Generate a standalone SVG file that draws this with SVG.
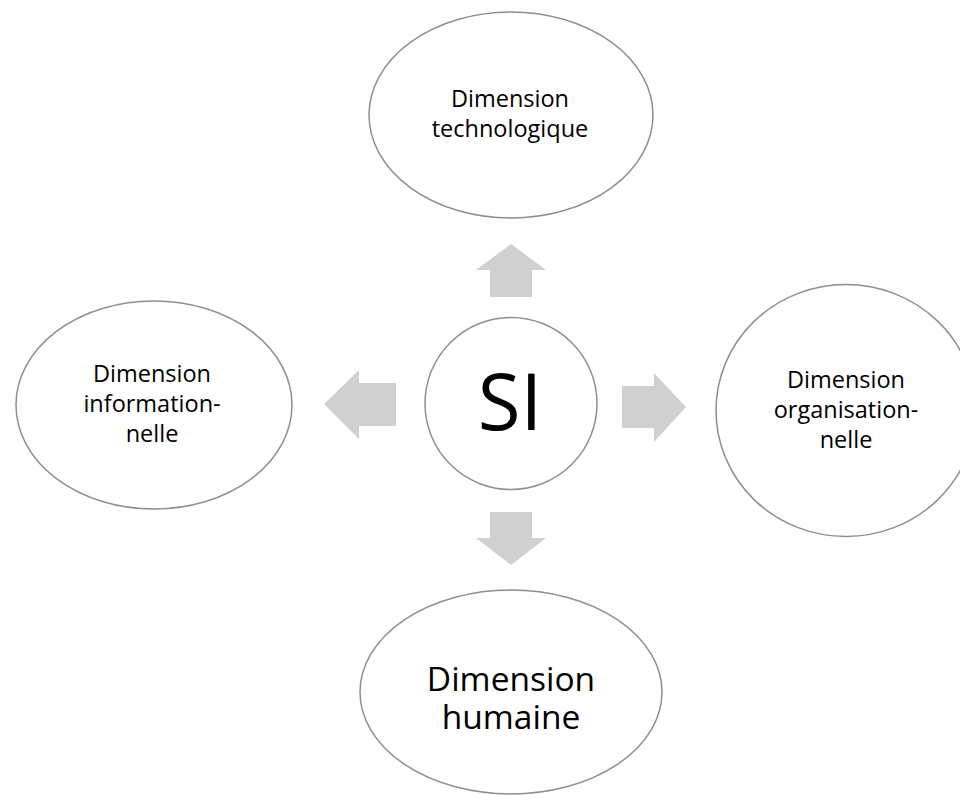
<svg xmlns="http://www.w3.org/2000/svg" width="960" height="795" viewBox="0 0 960 795">
<style>
.node{fill:#ffffff;stroke:#8f8f8f;stroke-width:1.5}
.lbl{font-family:"Open Sans","Liberation Sans",sans-serif;font-size:23.5px;fill:#000000;text-anchor:middle}
.big{font-size:33.5px}
.si{font-size:78px}
.arrow{fill:#d0d0d0;stroke:none}
</style>
<rect width="960" height="795" fill="#ffffff"/>
<g id="connectors">
<polygon class="arrow" points="511,244 546,270 532,270 532,297 490,297 490,270 476,270"/>
<polygon class="arrow" points="511,565 546,538 532,538 532,512 490,512 490,538 476,538"/>
<polygon class="arrow" points="324,404 359,370 359,383 396,383 396,426 359,426 359,439"/>
<polygon class="arrow" points="686,407 654,373 654,386 622,386 622,428 654,428 654,442"/>
</g>
<g id="node-si">
<circle class="node" cx="511" cy="403.5" r="86"/>
<text class="lbl si" x="510" y="430">SI</text>
</g>
<g id="node-tech">
<ellipse class="node" cx="511" cy="115" rx="142" ry="103"/>
<text class="lbl" x="510" y="107">Dimension</text>
<text class="lbl" x="510" y="137">technologique</text>
</g>
<g id="node-info">
<ellipse class="node" cx="154" cy="405" rx="138" ry="104"/>
<text class="lbl" x="152" y="382">Dimension</text>
<text class="lbl" x="152" y="412">information-</text>
<text class="lbl" x="152" y="442">nelle</text>
</g>
<g id="node-orga">
<ellipse class="node" cx="846" cy="410.5" rx="130" ry="126"/>
<text class="lbl" x="846" y="388">Dimension</text>
<text class="lbl" x="846" y="418">organisation-</text>
<text class="lbl" x="846" y="448">nelle</text>
</g>
<g id="node-hum">
<ellipse class="node" cx="511" cy="692" rx="151" ry="102"/>
<text class="lbl big" x="511" y="691">Dimension</text>
<text class="lbl big" x="511" y="729">humaine</text>
</g>
</svg>
